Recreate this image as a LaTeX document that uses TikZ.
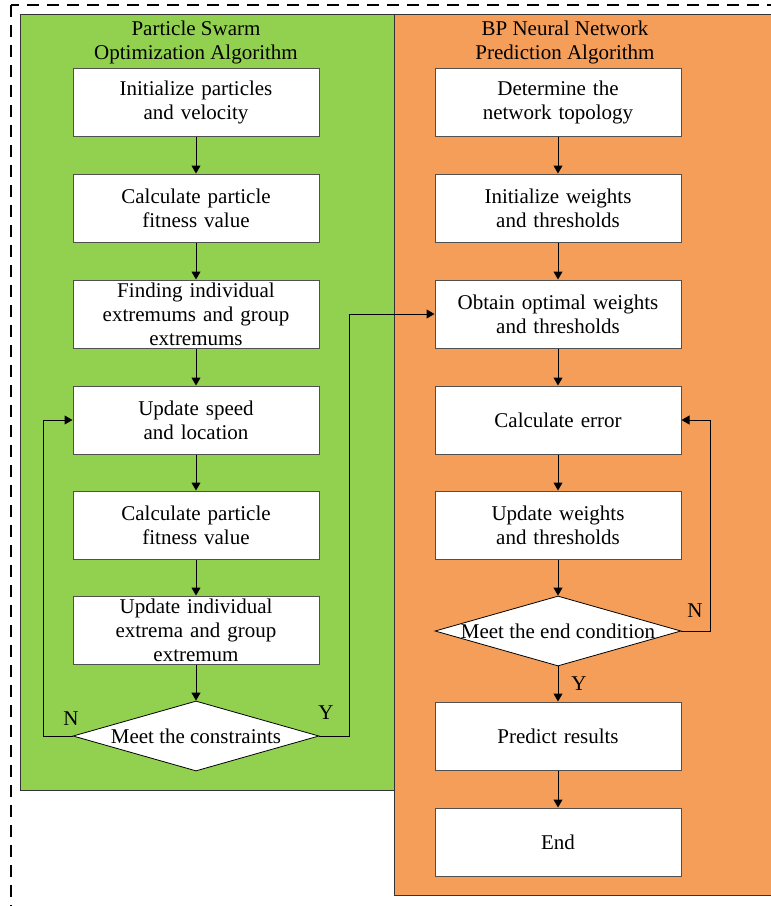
\documentclass[tikz,border=0pt]{standalone}
\usepackage{fontspec}
\setmainfont{Liberation Serif}
\usetikzlibrary{arrows.meta,shapes.geometric}
\definecolor{pgreen}{HTML}{92D050}
\definecolor{porange}{HTML}{F59E5A}
\definecolor{edge}{HTML}{505050}
\begin{document}
\begin{tikzpicture}[x=1pt,y=-1pt,
  txt/.style={font=\fontsize{21}{24}\selectfont},
  stepbox/.style={draw=edge,line width=1pt,fill=white,minimum width=246pt,minimum height=68pt,
    text width=240pt,align=center,inner sep=0pt,txt},
  decbox/.style={draw=black,line width=0.8pt,fill=white,shape=diamond,minimum width=246pt,minimum height=70pt,
    inner sep=0pt},
  arr/.style={draw=black,line width=1pt,-{Triangle[length=8pt,width=9pt]}},
  lbl/.style={txt,inner sep=0pt},
  panel/.style={draw=black!80,line width=1pt}]
\useasboundingbox (0,0) rectangle (771,906);
\clip (0,0) rectangle (771,906);
\fill[white] (0,0) rectangle (771,906);
\draw[line width=1.6pt,dash pattern=on 12pt off 8pt] (11,5) rectangle (800,940);
\draw[panel,fill=pgreen] (20,14) rectangle (394,790);
\draw[panel,fill=porange] (394,14) rectangle (790,895);
\node[lbl,align=center] (t1) at (196,42) {Particle Swarm\\Optimization Algorithm};
\node[lbl,align=center] (t2) at (565,42) {BP Neural Network\\Prediction Algorithm};
% left column
\node[stepbox] (l1) at (196,102) {Initialize particles\\and velocity};
\node[stepbox] (l2) at (196,208) {Calculate particle\\fitness value};
\node[stepbox] (l3) at (196,314) {Finding individual\\extremums and group\\extremums};
\node[stepbox] (l4) at (196,420) {Update speed\\and location};
\node[stepbox] (l5) at (196,525) {Calculate particle\\fitness value};
\node[stepbox] (l6) at (196,630) {Update individual\\extrema and group\\extremum};
\node[decbox] (ld) at (196,736) {};
\node[lbl] (ldt) at (196,736) {Meet the constraints};
% right column
\node[stepbox] (r1) at (558,102) {Determine the\\network topology};
\node[stepbox] (r2) at (558,208) {Initialize weights\\and thresholds};
\node[stepbox] (r3) at (558,314) {Obtain optimal weights\\and thresholds};
\node[stepbox] (r4) at (558,420) {Calculate error};
\node[stepbox] (r5) at (558,525) {Update weights\\and thresholds};
\node[decbox] (rd) at (558,631) {};
\node[lbl] (rdt) at (558,631) {Meet the end condition};
\node[stepbox] (r6) at (558,736) {Predict results};
\node[stepbox] (r7) at (558,842) {End};
% arrows
\draw[arr] (l1) -- (l2);
\draw[arr] (l2) -- (l3);
\draw[arr] (l3) -- (l4);
\draw[arr] (l4) -- (l5);
\draw[arr] (l5) -- (l6);
\draw[arr] (l6) -- (ld);
\draw[arr] (ld.west) -- ++(-29,0) |- (l4.west);
\draw[arr] (ld.east) -- ++(30,0) |- (r3.west);
\draw[arr] (r1) -- (r2);
\draw[arr] (r2) -- (r3);
\draw[arr] (r3) -- (r4);
\draw[arr] (r4) -- (r5);
\draw[arr] (r5) -- (rd);
\draw[arr] (rd) -- (r6);
\draw[arr] (r6) -- (r7);
\draw[arr] (rd.east) -- ++(29,0) |- (r4.east);
\node[lbl] (n1) at (71,719) {N};
\node[lbl] (y1) at (326,713) {Y};
\node[lbl] (n2) at (695,611) {N};
\node[lbl] (y2) at (579,684) {Y};
\end{tikzpicture}
\end{document}
